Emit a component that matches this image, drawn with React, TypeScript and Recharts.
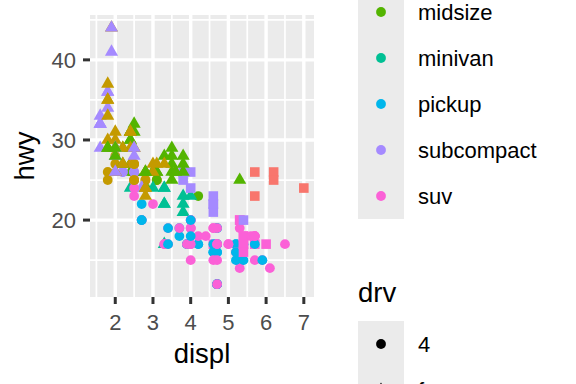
import React from "react";
import { ScatterChart, Scatter, XAxis, YAxis, CartesianGrid, Label } from "recharts";

// one row per car: [displ, hwy, class, drv], kept in the original row order
type Row = [number, number, string, string];

const audi: Row[] = [
  [1.8, 29, "compact", "f"], [1.8, 29, "compact", "f"], [2.0, 31, "compact", "f"], [2.0, 30, "compact", "f"],
  [2.8, 26, "compact", "f"], [2.8, 26, "compact", "f"], [3.1, 27, "compact", "f"],
  [1.8, 26, "compact", "4"], [1.8, 25, "compact", "4"], [2.0, 28, "compact", "4"], [2.0, 27, "compact", "4"],
  [2.8, 25, "compact", "4"], [2.8, 25, "compact", "4"], [3.1, 25, "compact", "4"], [3.1, 25, "compact", "4"],
  [2.8, 24, "midsize", "4"], [3.1, 25, "midsize", "4"], [4.2, 23, "midsize", "4"],
];

const chevrolet: Row[] = [
  [5.3, 20, "suv", "r"], [5.3, 15, "suv", "r"], [5.3, 20, "suv", "r"], [5.7, 17, "suv", "r"], [6.0, 17, "suv", "r"],
  [5.7, 26, "2seater", "r"], [5.7, 23, "2seater", "r"], [6.2, 26, "2seater", "r"], [6.2, 25, "2seater", "r"],
  [7.0, 24, "2seater", "r"],
  [5.3, 19, "suv", "4"], [5.3, 14, "suv", "4"], [5.7, 15, "suv", "4"], [6.5, 17, "suv", "4"],
  [2.4, 27, "midsize", "f"], [2.4, 30, "midsize", "f"], [3.1, 26, "midsize", "f"], [3.5, 29, "midsize", "f"],
  [3.6, 26, "midsize", "f"],
];

const dodge: Row[] = [
  [2.4, 24, "minivan", "f"], [3.0, 24, "minivan", "f"], [3.3, 22, "minivan", "f"], [3.3, 22, "minivan", "f"],
  [3.3, 24, "minivan", "f"], [3.3, 24, "minivan", "f"], [3.3, 17, "minivan", "f"], [3.8, 22, "minivan", "f"],
  [3.8, 21, "minivan", "f"], [3.8, 23, "minivan", "f"], [4.0, 23, "minivan", "f"],
  [3.7, 19, "pickup", "4"], [3.7, 18, "pickup", "4"], [3.9, 17, "pickup", "4"], [3.9, 17, "pickup", "4"],
  [4.7, 19, "pickup", "4"], [4.7, 19, "pickup", "4"], [4.7, 12, "pickup", "4"], [5.2, 17, "pickup", "4"],
  [5.2, 17, "pickup", "4"],
  [3.9, 17, "suv", "4"], [4.7, 17, "suv", "4"], [4.7, 12, "suv", "4"], [4.7, 17, "suv", "4"],
  [5.2, 16, "suv", "4"], [5.7, 18, "suv", "4"], [5.9, 15, "suv", "4"],
  [4.7, 16, "pickup", "4"], [4.7, 12, "pickup", "4"], [4.7, 17, "pickup", "4"], [4.7, 17, "pickup", "4"],
  [4.7, 16, "pickup", "4"], [4.7, 12, "pickup", "4"], [5.2, 15, "pickup", "4"], [5.2, 16, "pickup", "4"],
  [5.7, 17, "pickup", "4"], [5.9, 15, "pickup", "4"],
];

const ford: Row[] = [
  [4.6, 17, "suv", "r"], [5.4, 17, "suv", "r"], [5.4, 18, "suv", "r"],
  [4.0, 17, "suv", "4"], [4.0, 19, "suv", "4"], [4.0, 17, "suv", "4"], [4.0, 19, "suv", "4"],
  [4.6, 19, "suv", "4"], [5.0, 17, "suv", "4"],
  [4.2, 17, "pickup", "4"], [4.2, 17, "pickup", "4"], [4.6, 16, "pickup", "4"], [4.6, 16, "pickup", "4"],
  [4.6, 17, "pickup", "4"], [5.4, 15, "pickup", "4"], [5.4, 17, "pickup", "4"],
  [3.8, 26, "subcompact", "r"], [3.8, 25, "subcompact", "r"], [4.0, 26, "subcompact", "r"],
  [4.0, 24, "subcompact", "r"], [4.6, 21, "subcompact", "r"], [4.6, 22, "subcompact", "r"],
  [4.6, 23, "subcompact", "r"], [4.6, 22, "subcompact", "r"], [5.4, 20, "subcompact", "r"],
];

const honda: Row[] = [
  [1.6, 33, "subcompact", "f"], [1.6, 32, "subcompact", "f"], [1.6, 32, "subcompact", "f"],
  [1.6, 29, "subcompact", "f"], [1.6, 32, "subcompact", "f"], [1.8, 34, "subcompact", "f"],
  [1.8, 36, "subcompact", "f"], [1.8, 36, "subcompact", "f"], [2.0, 29, "subcompact", "f"],
];

const hyundai: Row[] = [
  [2.4, 26, "midsize", "f"], [2.4, 27, "midsize", "f"], [2.4, 30, "midsize", "f"], [2.4, 31, "midsize", "f"],
  [2.5, 26, "midsize", "f"], [2.5, 26, "midsize", "f"], [3.3, 28, "midsize", "f"],
  [2.0, 26, "subcompact", "f"], [2.0, 29, "subcompact", "f"], [2.0, 28, "subcompact", "f"],
  [2.0, 29, "subcompact", "f"], [2.7, 24, "subcompact", "f"], [2.7, 24, "subcompact", "f"],
  [2.7, 24, "subcompact", "f"],
];

const jeep: Row[] = [
  [3.0, 22, "suv", "4"], [3.7, 19, "suv", "4"], [4.0, 20, "suv", "4"], [4.7, 17, "suv", "4"],
  [4.7, 12, "suv", "4"], [4.7, 19, "suv", "4"], [5.7, 18, "suv", "4"], [6.1, 14, "suv", "4"],
];

const landRover: Row[] = [
  [4.0, 15, "suv", "4"], [4.2, 18, "suv", "4"], [4.4, 18, "suv", "4"], [4.6, 15, "suv", "4"],
];

const lincoln: Row[] = [[5.4, 17, "suv", "r"], [5.4, 16, "suv", "r"], [5.4, 18, "suv", "r"]];

const mercury: Row[] = [
  [4.0, 17, "suv", "4"], [4.0, 19, "suv", "4"], [4.6, 19, "suv", "4"], [5.0, 17, "suv", "4"],
];

const nissan: Row[] = [
  [2.4, 29, "compact", "f"], [2.4, 27, "compact", "f"], [2.5, 31, "midsize", "f"], [2.5, 32, "midsize", "f"],
  [3.5, 27, "midsize", "f"], [3.5, 26, "midsize", "f"],
  [3.0, 26, "midsize", "f"], [3.0, 26, "midsize", "f"], [3.5, 25, "midsize", "f"],
  [3.3, 17, "suv", "4"], [3.3, 17, "suv", "4"], [4.0, 20, "suv", "4"], [5.6, 18, "suv", "4"],
];

const pontiac: Row[] = [
  [3.1, 26, "midsize", "f"], [3.8, 27, "midsize", "f"], [3.8, 26, "midsize", "f"], [3.8, 28, "midsize", "f"],
  [5.3, 25, "midsize", "f"],
];

const subaru: Row[] = [
  [2.5, 25, "suv", "4"], [2.5, 24, "suv", "4"], [2.5, 27, "suv", "4"], [2.5, 25, "suv", "4"],
  [2.5, 26, "suv", "4"], [2.5, 23, "suv", "4"],
  [2.2, 26, "subcompact", "4"], [2.2, 26, "subcompact", "4"], [2.5, 26, "subcompact", "4"],
  [2.5, 26, "subcompact", "4"], [2.5, 25, "compact", "4"], [2.5, 27, "compact", "4"],
  [2.5, 25, "compact", "4"], [2.5, 27, "compact", "4"],
];

const toyota: Row[] = [
  [2.7, 20, "suv", "4"], [2.7, 20, "suv", "4"], [3.4, 19, "suv", "4"], [3.4, 17, "suv", "4"],
  [4.0, 20, "suv", "4"], [4.7, 17, "suv", "4"],
  [2.2, 29, "midsize", "f"], [2.2, 27, "midsize", "f"], [2.4, 31, "midsize", "f"], [2.4, 31, "midsize", "f"],
  [3.0, 26, "midsize", "f"], [3.0, 26, "midsize", "f"], [3.5, 28, "midsize", "f"],
  [2.2, 27, "compact", "f"], [2.2, 29, "compact", "f"], [2.4, 31, "compact", "f"], [2.4, 31, "compact", "f"],
  [3.0, 26, "compact", "f"], [3.0, 27, "compact", "f"], [3.3, 27, "compact", "f"],
  [1.8, 30, "compact", "f"], [1.8, 33, "compact", "f"], [1.8, 35, "compact", "f"], [1.8, 37, "compact", "f"],
  [1.8, 35, "compact", "f"],
  [4.7, 15, "suv", "4"], [5.7, 18, "suv", "4"],
  [2.7, 20, "pickup", "4"], [2.7, 20, "pickup", "4"], [2.7, 22, "pickup", "4"], [3.4, 17, "pickup", "4"],
  [3.4, 19, "pickup", "4"], [4.0, 18, "pickup", "4"], [4.0, 20, "pickup", "4"],
];

const volkswagen: Row[] = [
  [2.0, 29, "compact", "f"], [2.0, 26, "compact", "f"], [2.0, 29, "compact", "f"], [2.0, 29, "compact", "f"],
  [2.8, 24, "compact", "f"],
  [1.9, 44, "compact", "f"], [2.0, 29, "compact", "f"], [2.0, 26, "compact", "f"], [2.0, 29, "compact", "f"],
  [2.0, 29, "compact", "f"], [2.5, 29, "compact", "f"], [2.5, 29, "compact", "f"], [2.8, 23, "compact", "f"],
  [2.8, 24, "compact", "f"],
  [1.9, 44, "subcompact", "f"], [1.9, 41, "subcompact", "f"], [2.0, 29, "subcompact", "f"],
  [2.0, 26, "subcompact", "f"], [2.5, 28, "subcompact", "f"], [2.5, 29, "subcompact", "f"],
  [1.8, 29, "midsize", "f"], [1.8, 29, "midsize", "f"], [2.0, 28, "midsize", "f"], [2.0, 29, "midsize", "f"],
  [2.8, 26, "midsize", "f"], [2.8, 26, "midsize", "f"], [3.6, 26, "midsize", "f"],
];

const CLASSES = ["2seater", "compact", "midsize", "minivan", "pickup", "subcompact", "suv"];
const CLASS_COLORS = ["#F8766D", "#C49A00", "#53B400", "#00C094", "#00B6EB", "#A58AFF", "#FB61D7"];
const DRV_LEVELS = ["4", "f", "r"];

const X_TICKS = [2, 3, 4, 5, 6, 7];
const X_MINOR = [1.5, 2.5, 3.5, 4.5, 5.5, 6.5];
const Y_TICKS = [20, 30, 40];
const Y_MINOR = [15, 25, 35, 45];

// data range 1.6-7.0 / 12-44, padded 5% like ggplot
const X_DOMAIN: [number, number] = [1.33, 7.27];
const Y_DOMAIN: [number, number] = [10.4, 45.6];

const points = [
  ...audi, ...chevrolet, ...dodge, ...ford, ...honda, ...hyundai, ...jeep, ...landRover,
  ...lincoln, ...mercury, ...nissan, ...pontiac, ...subaru, ...toyota, ...volkswagen,
].map(([displ, hwy, cls, drv]) => ({ displ, hwy, cls, drv }));

const FONT = '"Liberation Sans", Arial, sans-serif';
const PANEL = "#EBEBEB";

function colorOf(cls: string): string {
  return CLASS_COLORS[CLASSES.indexOf(cls)] ?? "#000";
}

// ggplot shapes 16 / 17 / 15 for drv 4 / f / r
function Glyph({ drv, x, y, color }: { drv: string; x: number; y: number; color: string }) {
  if (drv === "4") return <circle cx={x} cy={y} r={4.9} fill={color} />;
  if (drv === "f") {
    const r = 7.6, yc = 3.8, xc = 6.55;
    return <polygon points={`${x},${y - r} ${x + xc},${y + yc} ${x - xc},${y + yc}`} fill={color} />;
  }
  const h = 4.8;
  return <rect x={x - h} y={y - h} width={h * 2} height={h * 2} fill={color} />;
}

function PointShape(props: any) {
  const { cx, cy, payload } = props;
  if (cx == null || cy == null) return null;
  return <Glyph drv={payload.drv} x={cx} y={cy} color={colorOf(payload.cls)} />;
}

// the legend runs off the top of the frame, as in the reference; labels
// that would sit wholly above the frame are not drawn
function Legend() {
  const keyX = 358;
  const key = 46;
  const classTop = 219 - CLASSES.length * key;
  const drvTop = 321;
  return (
    <svg
      width={576}
      height={384}
      style={{ position: "absolute", left: 0, top: 0, pointerEvents: "none", fontFamily: FONT }}
    >
      {CLASSES.map((c, i) => {
        const cy = classTop + i * key + key / 2;
        return (
          <g key={c}>
            <rect x={keyX} y={classTop + i * key} width={key} height={key} fill={PANEL} />
            <Glyph drv="4" x={keyX + key / 2} y={cy} color={CLASS_COLORS[i]} />
            {cy > -10 && (
              <text x={418} y={cy} dy="0.35em" fontSize={22} fill="#000">{c}</text>
            )}
          </g>
        );
      })}
      <text x={keyX} y={302} fontSize={27.5} fill="#000">drv</text>
      {DRV_LEVELS.map((d, i) => {
        const cy = drvTop + i * key + key / 2;
        return (
          <g key={d}>
            <rect x={keyX} y={drvTop + i * key} width={key} height={key} fill={PANEL} />
            <Glyph drv={d} x={keyX + key / 2} y={cy} color="#000" />
            {cy < 400 && (
              <text x={418} y={cy} dy="0.35em" fontSize={22} fill="#000">{d}</text>
            )}
          </g>
        );
      })}
    </svg>
  );
}

const tickStyle = { fill: "#4D4D4D", fontSize: 22, fontFamily: FONT };
const tickLine = { stroke: "#333333", strokeWidth: 3 };

export default function App() {
  return (
    <div style={{ position: "absolute", left: 0, top: 0, width: 576, height: 384, background: "#fff", fontFamily: FONT }}>
      <ScatterChart width={576} height={384} margin={{ top: 15, right: 262, bottom: 0, left: 0 }}>
        <CartesianGrid
          fill={PANEL}
          stroke="#FFFFFF"
          strokeWidth={1.7}
          verticalValues={X_MINOR}
          horizontalValues={Y_MINOR}
        />
        <CartesianGrid
          stroke="#FFFFFF"
          strokeWidth={3.4}
          verticalValues={X_TICKS}
          horizontalValues={Y_TICKS}
        />
        <XAxis
          dataKey="displ"
          type="number"
          domain={X_DOMAIN}
          ticks={X_TICKS}
          allowDataOverflow
          axisLine={false}
          tickLine={tickLine}
          tickSize={7}
          tickMargin={10}
          tick={tickStyle}
          height={87}
        >
          <Label
            content={({ viewBox }: any) => (
              <text x={viewBox.x + viewBox.width / 2} y={viewBox.y + 66} textAnchor="middle" fontSize={27.5} fill="#000" fontFamily={FONT}>
                displ
              </text>
            )}
          />
        </XAxis>
        <YAxis
          dataKey="hwy"
          type="number"
          domain={Y_DOMAIN}
          ticks={Y_TICKS}
          allowDataOverflow
          axisLine={false}
          tickLine={tickLine}
          tickSize={7}
          tickMargin={7}
          tick={tickStyle}
          width={90}
        >
          <Label
            content={({ viewBox }: any) => {
              const x = viewBox.x + 34;
              const y = viewBox.y + viewBox.height / 2;
              return (
                <text x={x} y={y} transform={`rotate(-90, ${x}, ${y})`} textAnchor="middle" fontSize={27.5} fill="#000" fontFamily={FONT}>
                  hwy
                </text>
              );
            }}
          />
        </YAxis>
        <Scatter data={points} shape={PointShape} isAnimationActive={false} />
      </ScatterChart>
      <Legend />
    </div>
  );
}
